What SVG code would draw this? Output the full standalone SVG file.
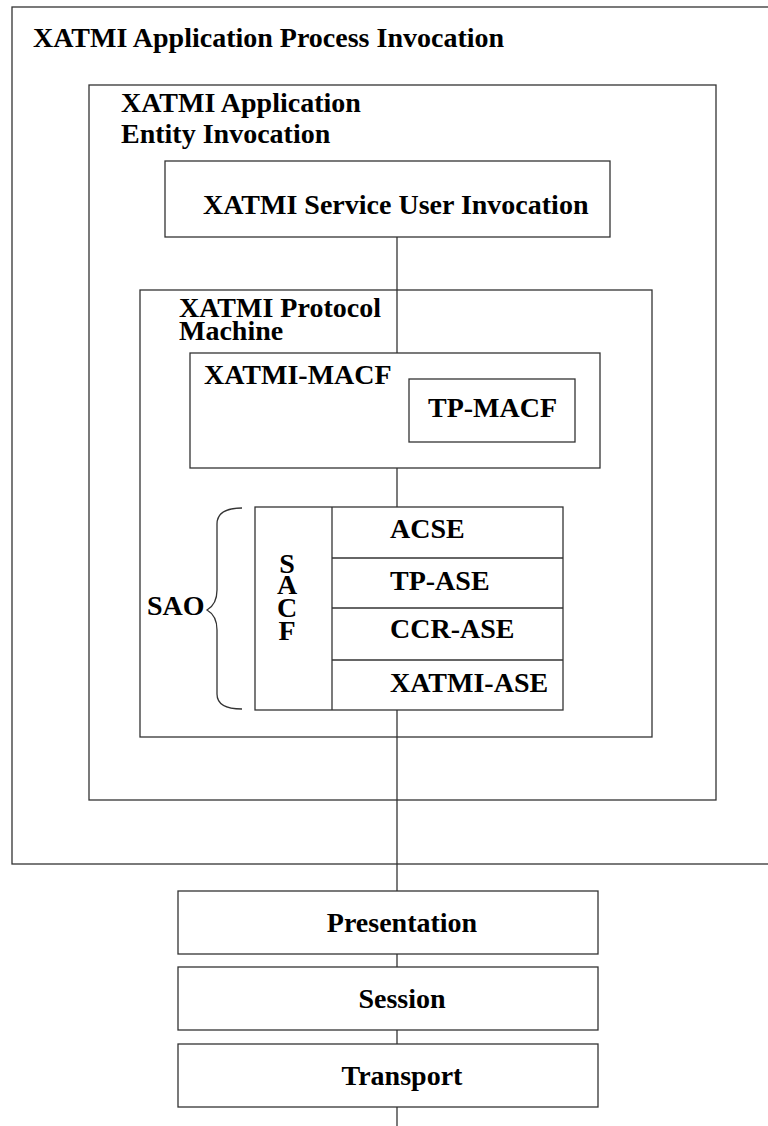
<svg xmlns="http://www.w3.org/2000/svg" width="768" height="1126" viewBox="0 0 768 1126">
<style>
.b{fill:#fff;stroke:#333;stroke-width:1.3}
.n{fill:none;stroke:#333;stroke-width:1.3}
.t{font-family:"Liberation Serif",serif;font-weight:bold;font-size:28px;fill:#000}
.c{text-anchor:middle}
.l{stroke:#333;stroke-width:1.3;fill:none}
</style>
<rect width="768" height="1126" fill="#fff"/>
<g id="process"><rect class="b" x="12" y="7" width="770" height="857"/><text class="t" x="33" y="47">XATMI Application Process Invocation</text></g>
<g id="entity"><rect class="b" x="89" y="85" width="627" height="715"/><text class="t" x="121" y="112">XATMI Application</text><text class="t" x="121" y="143">Entity Invocation</text></g>
<g id="connectors">
<line class="l" x1="397" y1="237" x2="397" y2="353"/>
<line class="l" x1="397" y1="468" x2="397" y2="507"/>
<line class="l" x1="397" y1="710" x2="397" y2="891"/>
<line class="l" x1="397" y1="954" x2="397" y2="967"/>
<line class="l" x1="397" y1="1030" x2="397" y2="1044"/>
<line class="l" x1="397" y1="1107" x2="397" y2="1126"/>
</g>
<g id="service-user"><rect class="b" x="165" y="161" width="445" height="76"/><text class="t" x="203" y="214">XATMI Service User Invocation</text></g>
<g id="protocol-machine"><rect class="n" x="140" y="290" width="512" height="447"/><text class="t" x="179" y="317">XATMI Protocol</text><text class="t" x="179" y="340">Machine</text></g>
<g id="xatmi-macf"><rect class="b" x="190" y="353" width="410" height="115"/><text class="t" x="204" y="384">XATMI-MACF</text></g>
<g id="tp-macf"><rect class="b" x="409" y="379" width="166" height="63"/><text class="t" x="428" y="417">TP-MACF</text></g>
<g id="sao-stack">
<rect class="b" x="255" y="507" width="308" height="203"/>
<line class="l" x1="332" y1="507" x2="332" y2="710"/>
<line class="l" x1="332" y1="558" x2="563" y2="558"/>
<line class="l" x1="332" y1="608" x2="563" y2="608"/>
<line class="l" x1="332" y1="660" x2="563" y2="660"/>
<text class="t c" x="287" y="573">S</text><text class="t c" x="287" y="594">A</text><text class="t c" x="287" y="617">C</text><text class="t c" x="287" y="640">F</text>
<text class="t" x="390" y="538">ACSE</text>
<text class="t" x="390" y="590">TP-ASE</text>
<text class="t" x="390" y="638">CCR-ASE</text>
<text class="t" x="390" y="692">XATMI-ASE</text>
</g>
<g id="sao">
<path class="l" d="M242,508 C226,508 217,513 217,524 L217,590 C217,600 214,606 207,610 C214,614 217,620 217,630 L217,694 C217,705 226,709 242,709"/>
<text class="t" x="147" y="615">SAO</text>
</g>
<g id="presentation"><rect class="b" x="178" y="891" width="420" height="63"/><text class="t c" x="402" y="932">Presentation</text></g>
<g id="session"><rect class="b" x="178" y="967" width="420" height="63"/><text class="t c" x="402" y="1008">Session</text></g>
<g id="transport"><rect class="b" x="178" y="1044" width="420" height="63"/><text class="t c" x="402" y="1085">Transport</text></g>
</svg>
